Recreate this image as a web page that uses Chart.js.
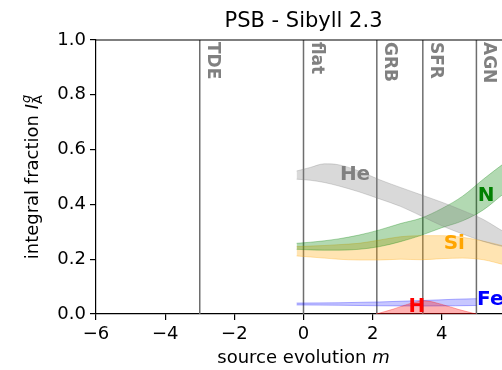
<!DOCTYPE html>
<html>
<head>
<meta charset="utf-8">
<script src="https://cdn.jsdelivr.net/npm/chart.js@4/dist/chart.umd.min.js"></script>
<style>
html, body { margin:0; padding:0; overflow:hidden; background:#fff; width:502px; height:370px; }
#wrap { width:530px; height:370px; }
canvas { display:block; }
</style>
</head>
<body>
<div id="wrap"><canvas id="c" width="530" height="370"></canvas></div>
<script>
// ---- data ----
const titleText = "PSB - Sibyll 2.3";
const xTicks = [-6, -4, -2, 0, 2, 4, 6];
const yTicks = [0.0, 0.2, 0.4, 0.6, 0.8, 1.0];

const sourceNames = ["TDE", "flat", "GRB", "SFR", "AGN"];
const sourceM     = [-3.0, 0.0, 2.12, 3.45, 5.0];

const mGrid   = [-0.2, 0.2, 0.6, 1.0, 1.6, 2.2, 2.8, 3.4, 4.0, 4.6, 5.2, 5.8, 6.0];
const heUpper = [0.522, 0.535, 0.548, 0.545, 0.522, 0.490, 0.462, 0.435, 0.408, 0.378, 0.345, 0.300, 0.288];
const heLower = [0.492, 0.488, 0.480, 0.468, 0.446, 0.420, 0.393, 0.358, 0.322, 0.292, 0.265, 0.245, 0.240];
const nUpper  = [0.258, 0.262, 0.267, 0.274, 0.288, 0.307, 0.330, 0.350, 0.385, 0.430, 0.492, 0.550, 0.568];
const nLower  = [0.236, 0.234, 0.233, 0.233, 0.236, 0.246, 0.264, 0.287, 0.315, 0.340, 0.380, 0.440, 0.458];
const siUpper = [0.246, 0.248, 0.250, 0.253, 0.258, 0.270, 0.282, 0.286, 0.286, 0.280, 0.266, 0.248, 0.242];
const siLower = [0.212, 0.208, 0.204, 0.200, 0.197, 0.197, 0.200, 0.198, 0.202, 0.204, 0.198, 0.180, 0.175];

const feGrid  = [-0.2, 1.0, 2.2, 3.4, 4.4, 5.0];
const feUpper = [0.040, 0.041, 0.044, 0.049, 0.054, 0.056];
const feLower = [0.033, 0.032, 0.030, 0.029, 0.030, 0.031];

const hGrid   = [2.1, 2.6, 3.0, 3.5, 4.0, 4.5, 5.0];
const hUpper  = [0.0, 0.018, 0.035, 0.048, 0.035, 0.016, 0.0];
const hLower  = [0.0, 0.0, 0.0, 0.0, 0.0, 0.0, 0.0];

const elemNames = ["He", "N", "Si", "H", "Fe"];
const elemLabelM = [1.49, 5.28, 4.36, 3.28, 5.02];
const elemLabelF = [0.507, 0.433, 0.256, 0.027, 0.051];

// ---- styles ----
const elemColors = { He: "128,128,128", N: "0,128,0", Si: "255,165,0", H: "255,0,0", Fe: "0,0,255" };
const elemAlpha  = { He: 0.3, N: 0.3, Si: 0.3, H: 0.3, Fe: 0.22 };
const labelAlign = { He: "center", N: "center", Si: "center", H: "center", Fe: "left" };

function pts(xs, ys) { return xs.map((x, i) => ({ x: x, y: ys[i] })); }

function band(name, xs, up, lo) {
  const c = elemColors[name], al = elemAlpha[name];
  return [
    { label: name + " upper", data: pts(xs, up), borderColor: "rgba(" + c + ",0.3)", borderWidth: 1,
      backgroundColor: "rgba(" + c + "," + al + ")", fill: "+1", pointRadius: 0, tension: 0.4, cubicInterpolationMode: "monotone" },
    { label: name + " lower", data: pts(xs, lo), borderColor: "rgba(" + c + ",0.3)", borderWidth: 1,
      backgroundColor: "rgba(" + c + "," + al + ")", fill: false, pointRadius: 0, tension: 0.4, cubicInterpolationMode: "monotone" }
  ];
}

const datasets = [];
datasets.push(...band("He", mGrid, heUpper, heLower));
datasets.push(...band("N", mGrid, nUpper, nLower));
datasets.push(...band("Si", mGrid, siUpper, siLower));
datasets.push(...band("H", hGrid, hUpper, hLower));
datasets.push(...band("Fe", feGrid, feUpper, feLower));
sourceNames.forEach((n, i) => {
  datasets.push({ label: n, data: [{ x: sourceM[i], y: 0 }, { x: sourceM[i], y: 1 }],
    borderColor: "#6e6e6e", borderWidth: 1.5, pointRadius: 0, fill: false, tension: 0 });
});

const FONT = "'DejaVu Sans', sans-serif";

const decor = {
  id: "decor",
  afterDatasetsDraw(chart) {
    const ctx = chart.ctx, a = chart.chartArea, xs = chart.scales.x, ys = chart.scales.y;
    ctx.save();
    // source labels (rotated, top-down)
    ctx.fillStyle = "#808080";
    ctx.font = "bold 17px " + FONT;
    sourceNames.forEach((n, i) => {
      const px = xs.getPixelForValue(sourceM[i]);
      ctx.save();
      ctx.translate(px + 4, a.top + 2);
      ctx.rotate(Math.PI / 2);
      ctx.textAlign = "left";
      ctx.textBaseline = "bottom";
      ctx.fillText(n, 0, 0);
      ctx.restore();
    });
    // element labels
    ctx.font = "bold 20px " + FONT;
    ctx.textBaseline = "middle";
    elemNames.forEach((n, i) => {
      ctx.fillStyle = "rgb(" + elemColors[n] + ")";
      ctx.textAlign = labelAlign[n];
      ctx.fillText(n, xs.getPixelForValue(elemLabelM[i]), ys.getPixelForValue(elemLabelF[i]));
    });
    // top & right spines
    ctx.strokeStyle = "#000";
    ctx.lineWidth = 1.2;
    ctx.beginPath();
    ctx.moveTo(a.left, a.top); ctx.lineTo(a.right, a.top); ctx.lineTo(a.right, a.bottom);
    ctx.stroke();
    // title
    const cx = (a.left + a.right) / 2;
    ctx.fillStyle = "#000";
    ctx.textAlign = "center";
    ctx.textBaseline = "alphabetic";
    ctx.font = "21px " + FONT;
    ctx.fillText(titleText, cx, 27);
    // x label
    ctx.font = "18px " + FONT;
    const s1 = "source evolution ";
    const w1 = ctx.measureText(s1).width;
    ctx.font = "italic 18px " + FONT;
    const w2 = ctx.measureText("m").width;
    let x0 = cx - (w1 + w2) / 2;
    ctx.textAlign = "left";
    ctx.font = "18px " + FONT;
    ctx.fillText(s1, x0, 363);
    ctx.font = "italic 18px " + FONT;
    ctx.fillText("m", x0 + w1, 363);
    // y label
    const cy = (a.top + a.bottom) / 2;
    ctx.save();
    ctx.translate(38, cy);
    ctx.rotate(-Math.PI / 2);
    ctx.font = "18px " + FONT;
    const t1 = "integral fraction ";
    const tw1 = ctx.measureText(t1).width;
    ctx.font = "italic 18px " + FONT;
    const tw2 = ctx.measureText("I").width;
    ctx.font = "italic 13px " + FONT;
    const tw3 = ctx.measureText("g").width;
    const total = tw1 + tw2 + tw3 + 1;
    let sx = -total / 2;
    ctx.font = "18px " + FONT;
    ctx.fillText(t1, sx, 0);
    ctx.font = "italic 18px " + FONT;
    ctx.fillText("I", sx + tw1, 0);
    ctx.font = "italic 13px " + FONT;
    ctx.fillText("g", sx + tw1 + tw2 + 1, -8);
    ctx.font = "13px " + FONT;
    ctx.fillText("A", sx + tw1 + tw2, 4);
    ctx.restore();
    ctx.restore();
  }
};

new Chart(document.getElementById("c"), {
  type: "line",
  data: { datasets: datasets },
  options: {
    responsive: false,
    animation: false,
    devicePixelRatio: 1,
    layout: { padding: { top: 40, right: 19, bottom: 0, left: 0 } },
    plugins: { legend: { display: false }, title: { display: false }, tooltip: { enabled: false } },
    scales: {
      x: {
        type: "linear", min: xTicks[0], max: xTicks[xTicks.length - 1],
        afterBuildTicks: (s) => { s.ticks = xTicks.map(v => ({ value: v })); },
        afterFit: (s) => { s.height = 56; },
        ticks: { color: "#000", font: { family: FONT, size: 18 }, padding: 4, maxRotation: 0,
          callback: (v) => (v < 0 ? "\u2212" + Math.abs(v) : String(v)) },
        grid: { display: true, drawOnChartArea: false, drawTicks: true, tickLength: 6, color: "#000", lineWidth: 1.2 },
        border: { display: true, color: "#000", width: 1.2 }
      },
      y: {
        type: "linear", min: 0, max: 1,
        afterBuildTicks: (s) => { s.ticks = yTicks.map(v => ({ value: v })); },
        afterFit: (s) => { s.width = 96; },
        ticks: { color: "#000", font: { family: FONT, size: 18 }, padding: 4,
          callback: (v) => Number(v).toFixed(1) },
        grid: { display: true, drawOnChartArea: false, drawTicks: true, tickLength: 6, color: "#000", lineWidth: 1.2 },
        border: { display: true, color: "#000", width: 1.2 }
      }
    }
  },
  plugins: [decor]
});
</script>
</body>
</html>
